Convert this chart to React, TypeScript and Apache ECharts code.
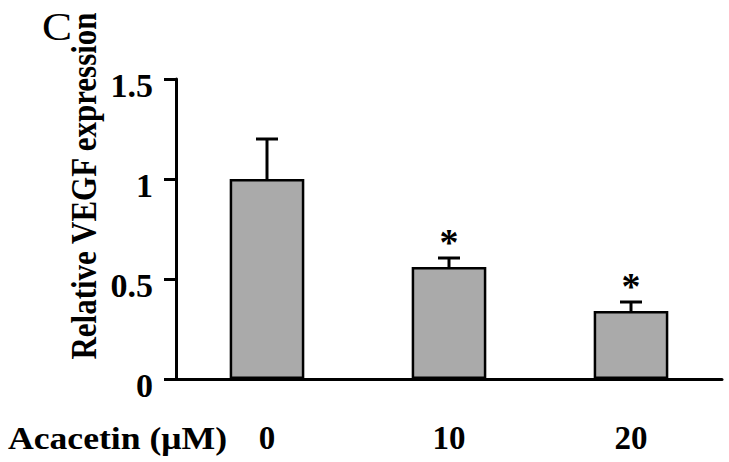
import React, { useEffect, useRef } from "react";
import * as echarts from "echarts";

const categories = ["0", "10", "20"];
const meanValues = [1.0, 0.56, 0.34];
const errorValues = [0.2, 0.045, 0.045];
const significance = ["", "*", "*"];
const yTicks = { min: 0, max: 1.5, interval: 0.5 };
const xAxisTitle = "Acacetin (\u03bcM)";
const yAxisTitle = "Relative VEGF expression";
const panelLetter = "C";

const FONT = "'Liberation Serif', 'Times New Roman', serif";

export default function App() {
  const ref = useRef<HTMLDivElement>(null);
  useEffect(() => {
    document.body.style.margin = "0";
    const chart = echarts.init(ref.current!, undefined, { renderer: "svg" });
    const errData = categories.map((_, i) => [i, meanValues[i], errorValues[i], i]);
    chart.setOption({
      animation: false,
      backgroundColor: "#ffffff",
      grid: { left: 176, right: 7, top: 79, bottom: 83 },
      xAxis: {
        type: "category",
        data: categories,
        axisLine: { lineStyle: { color: "#000", width: 3 } },
        axisTick: { show: false },
        axisLabel: {
          color: "#000",
          fontFamily: FONT,
          fontWeight: "bold",
          fontSize: 33,
          margin: 42,
        },
      },
      yAxis: {
        type: "value",
        min: yTicks.min,
        max: yTicks.max,
        interval: yTicks.interval,
        splitLine: { show: false },
        axisLine: { show: true, lineStyle: { color: "#000", width: 3 } },
        axisTick: { show: true, length: 12, lineStyle: { color: "#000", width: 3 } },
        axisLabel: {
          color: "#000",
          fontFamily: FONT,
          fontWeight: "bold",
          fontSize: 34,
          margin: 23,
          verticalAlign: "top",
          lineHeight: 12,
          formatter: (v: number) => String(v),
        },
      },
      graphic: [
        {
          type: "text",
          x: 42,
          y: 6,
          scaleX: 1.1,
          style: { text: panelLetter, font: `normal 41px ${FONT}`, fill: "#000" },
        },
        {
          type: "text",
          x: 84,
          y: 186,
          rotation: Math.PI / 2,
          scaleY: 1.15,
          style: {
            text: yAxisTitle,
            font: `bold 31px ${FONT}`,
            fill: "#000",
            align: "center",
            verticalAlign: "middle",
          },
        },
        {
          type: "text",
          x: 8,
          y: 438,
          scaleX: 1.15,
          style: {
            text: xAxisTitle,
            font: `bold 31px ${FONT}`,
            fill: "#000",
            align: "left",
            verticalAlign: "middle",
          },
        },
      ],
      series: [
        {
          type: "bar",
          data: meanValues,
          barWidth: "41%",
          itemStyle: { color: "#aaaaaa", borderColor: "#000", borderWidth: 2.5 },
          z: 2,
        },
        {
          type: "custom",
          data: errData,
          z: 3,
          renderItem: (params: any, api: any) => {
            const i = api.value(0);
            const v = api.value(1);
            const e = api.value(2);
            const idx = api.value(3);
            const base = api.coord([i, v]);
            const top = api.coord([i, v + e]);
            const capHalf = 11;
            const children: any[] = [
              {
                type: "line",
                shape: { x1: base[0], y1: base[1], x2: top[0], y2: top[1] },
                style: { stroke: "#000", lineWidth: 3 },
              },
              {
                type: "line",
                shape: { x1: top[0] - capHalf, y1: top[1], x2: top[0] + capHalf, y2: top[1] },
                style: { stroke: "#000", lineWidth: 3 },
              },
            ];
            const s = significance[idx];
            if (s) {
              children.push({
                type: "text",
                x: top[0],
                y: top[1] + 3,
                style: {
                  text: s,
                  font: `bold 38px ${FONT}`,
                  fill: "#000",
                  align: "center",
                  verticalAlign: "bottom",
                },
              });
            }
            return { type: "group", children };
          },
        },
      ],
    });
    return () => chart.dispose();
  }, []);
  return (
    <div
      ref={ref}
      style={{ position: "absolute", left: 0, top: 0, width: 729, height: 462 }}
    />
  );
}
